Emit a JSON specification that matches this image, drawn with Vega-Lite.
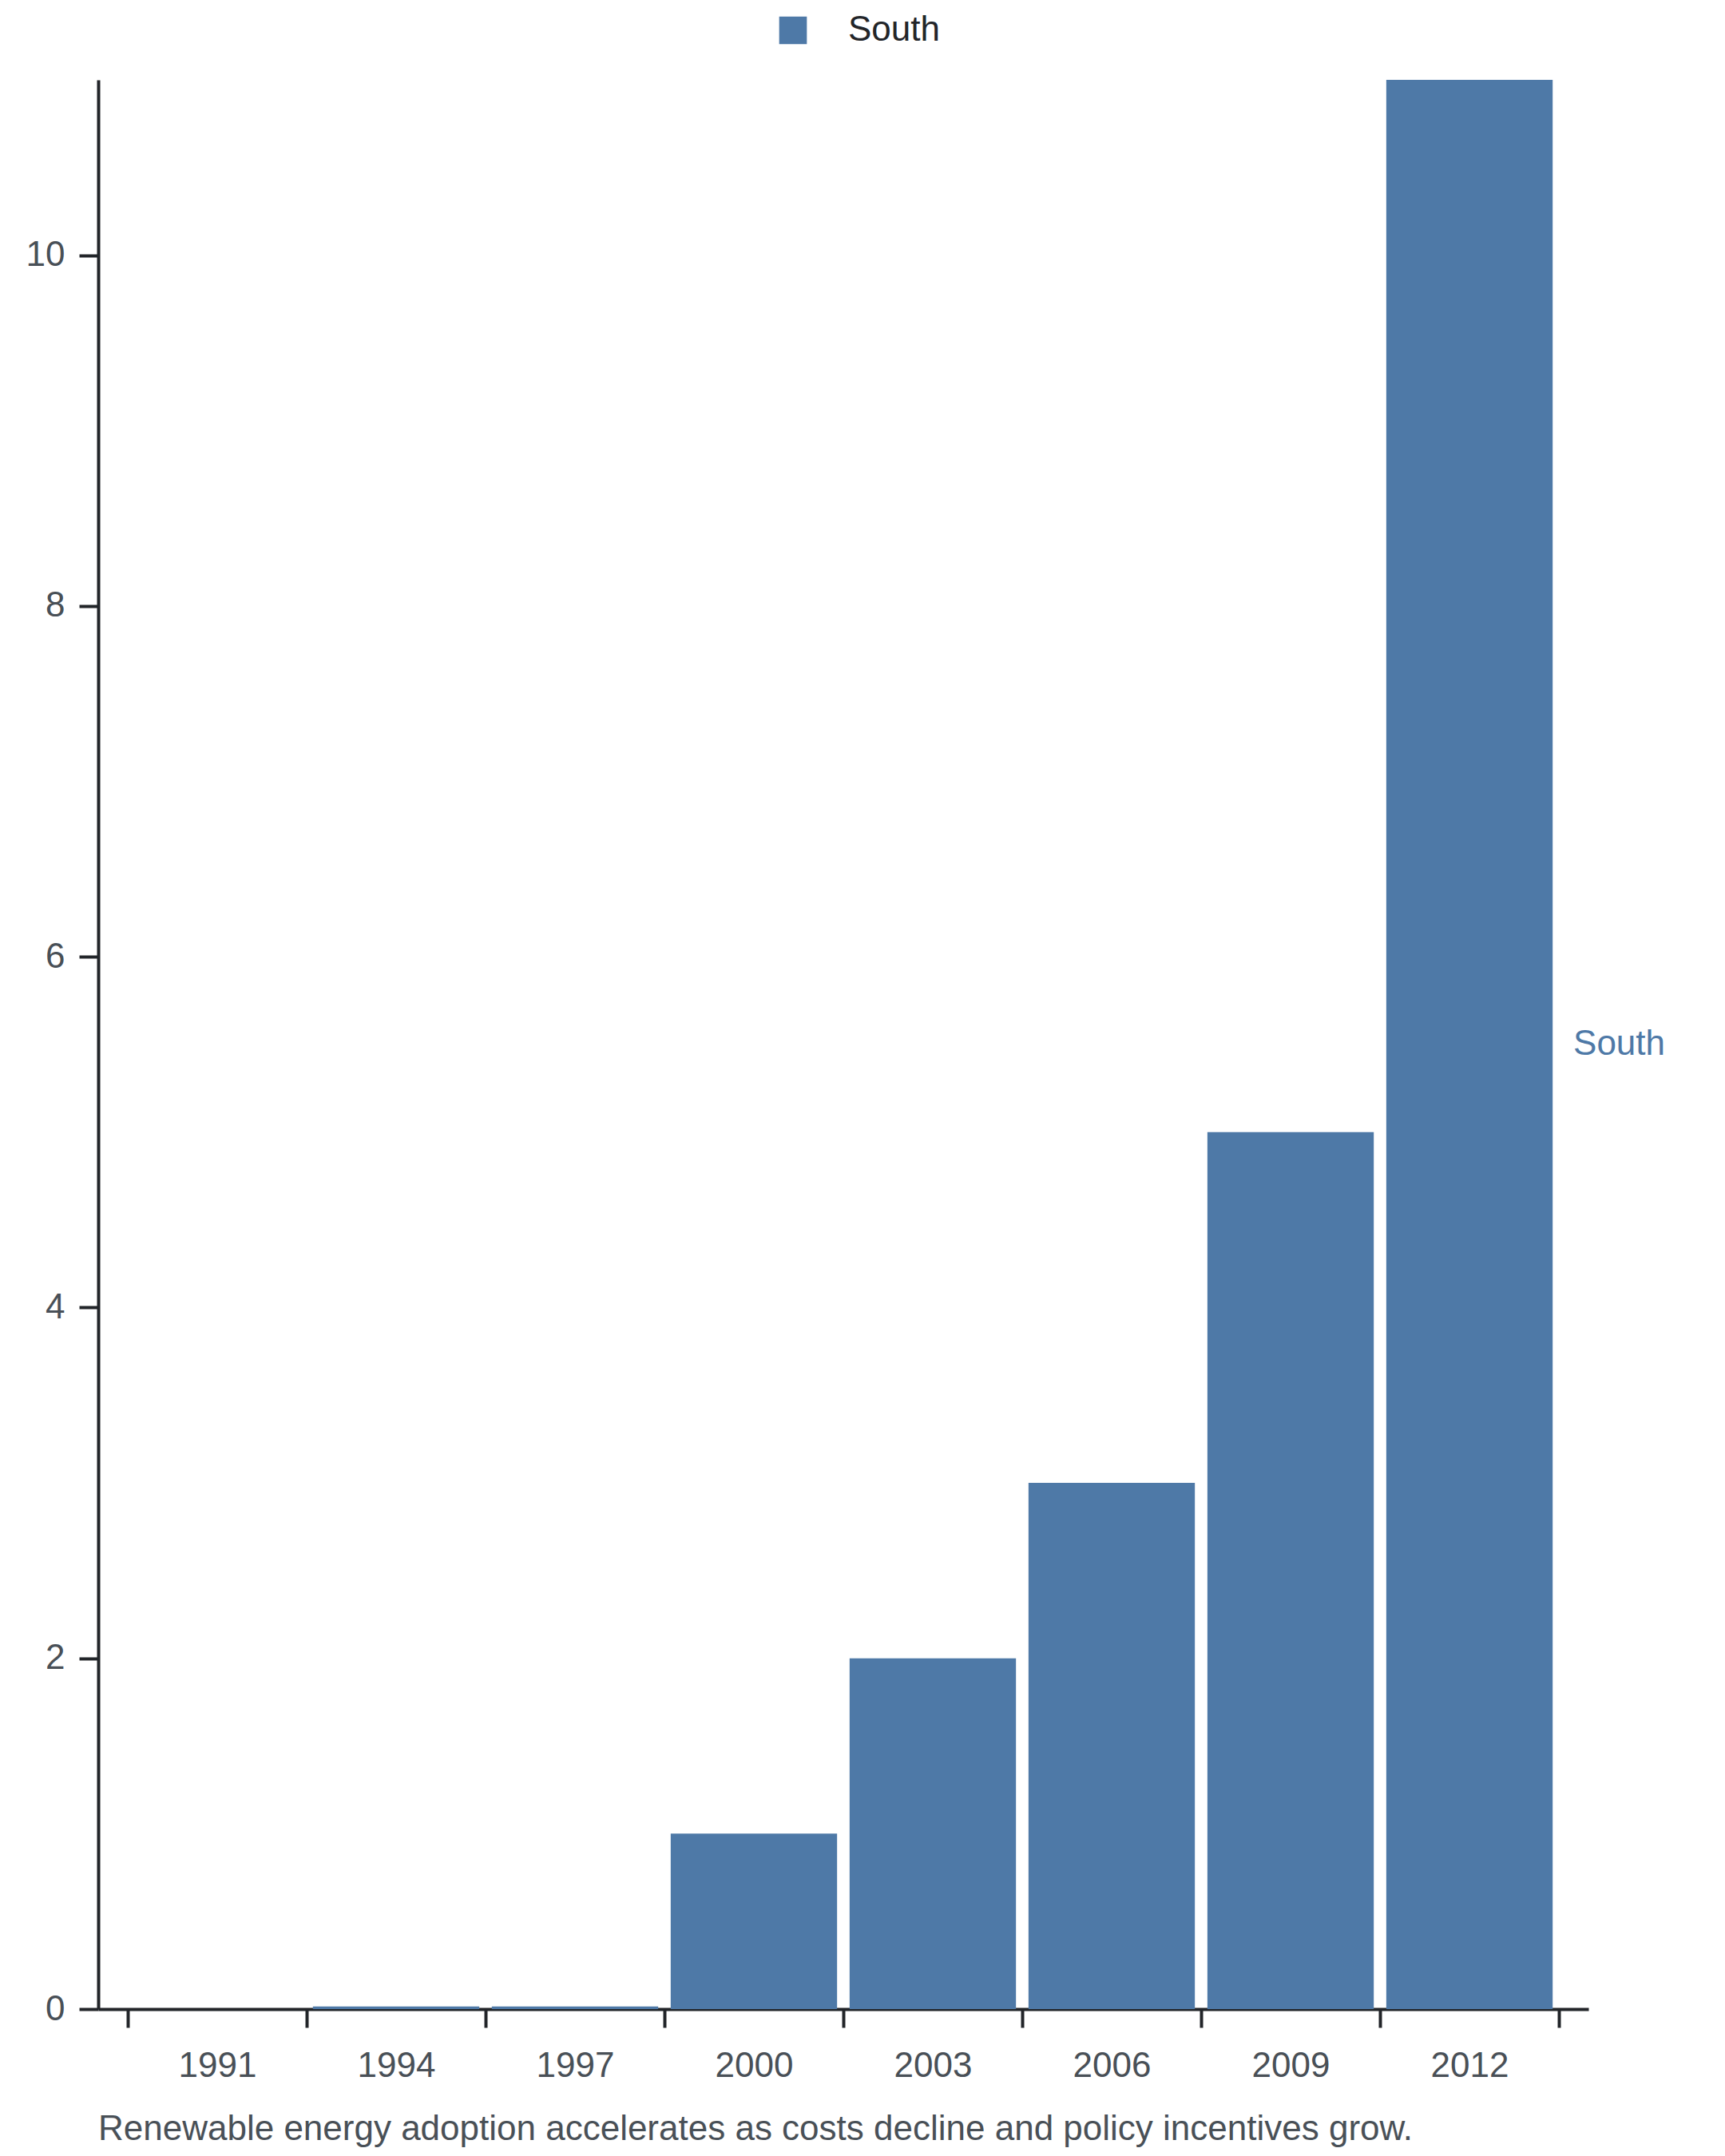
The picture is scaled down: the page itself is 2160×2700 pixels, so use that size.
{
  "$schema": "https://vega.github.io/schema/vega-lite/v6.json",
  "width": 1866,
  "height": 2416,
  "padding": {"left": 32, "top": 16, "right": 10, "bottom": 8},
  "background": "white",
  "title": {
    "text": "Renewable energy adoption accelerates as costs decline and policy incentives grow.",
    "orient": "bottom",
    "anchor": "start",
    "frame": "group",
    "fontSize": 44,
    "fontWeight": "normal",
    "color": "#495057",
    "offset": 36
  },
  "data": {
    "values": [
      {"year": "1991", "region": "South", "value": 0},
      {"year": "1994", "region": "South", "value": 0.015},
      {"year": "1997", "region": "South", "value": 0.015},
      {"year": "2000", "region": "South", "value": 1},
      {"year": "2003", "region": "South", "value": 2},
      {"year": "2006", "region": "South", "value": 3},
      {"year": "2009", "region": "South", "value": 5},
      {"year": "2012", "region": "South", "value": 11}
    ]
  },
  "encoding": {
    "x": {
      "field": "year",
      "type": "ordinal",
      "sort": null,
      "scale": {"paddingInner": 0, "paddingOuter": 0.165},
      "axis": {
        "title": null,
        "labelAngle": 0,
        "tickBand": "extent",
        "tickSize": 23,
        "labelPadding": 26
      }
    }
  },
  "layer": [
    {
      "mark": {"type": "bar", "width": {"band": 0.93}},
      "encoding": {
        "y": {
          "field": "value",
          "type": "quantitative",
          "scale": {"domain": [0, 11], "nice": false},
          "axis": {
            "title": null,
            "values": [0, 2, 4, 6, 8, 10],
            "format": "d",
            "tickSize": 24,
            "labelPadding": 18,
            "grid": false
          }
        },
        "color": {
          "field": "region",
          "type": "nominal",
          "scale": {"range": ["#4e79a7"]},
          "legend": {"title": null, "orient": "top"}
        }
      }
    },
    {
      "transform": [
        {"filter": "datum.year == '2012'"},
        {"calculate": "datum.value / 2", "as": "mid"}
      ],
      "mark": {
        "type": "text",
        "align": "left",
        "baseline": "middle",
        "dx": 18,
        "fontSize": 44,
        "color": "#4e79a7"
      },
      "encoding": {
        "x": {"field": "year", "type": "ordinal", "sort": null, "bandPosition": 1},
        "y": {"field": "mid", "type": "quantitative"},
        "text": {"field": "region"}
      }
    }
  ],
  "config": {
    "font": "Liberation Sans",
    "view": {"stroke": null},
    "axis": {
      "zindex": 1,
      "domainColor": "#222529",
      "domainWidth": 4,
      "tickColor": "#222529",
      "tickWidth": 4,
      "labelFontSize": 44,
      "labelColor": "#495057",
      "grid": false
    },
    "legend": {
      "orient": "top",
      "direction": "horizontal",
      "symbolType": "square",
      "symbolSize": 1200,
      "symbolStrokeWidth": 0,
      "symbolOffset": 36,
      "labelFontSize": 44,
      "labelColor": "#222529",
      "labelOffset": 47,
      "offset": 40,
      "layout": {"top": {"anchor": "middle"}}
    }
  }
}
